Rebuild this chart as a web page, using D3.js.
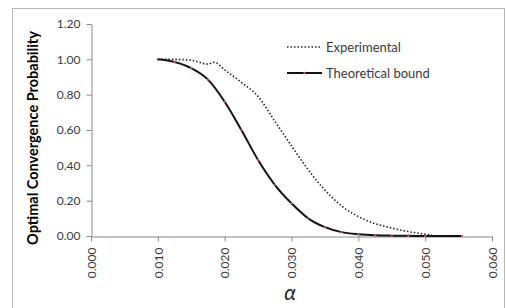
<!DOCTYPE html>
<html>
<head>
<meta charset="utf-8">
<script src="https://cdn.jsdelivr.net/npm/d3@7"></script>
<style>
  body { margin: 0; background: #fff; }
  text { font-family: Lato, "Open Sans", sans-serif; }
</style>
</head>
<body>
<svg id="chart"></svg>
<script>
// values
const theoAlpha = [0.0100, 0.0125, 0.0150, 0.0175, 0.0200, 0.0225, 0.0250, 0.0275, 0.0300, 0.0325, 0.0350, 0.0375, 0.0400, 0.0425, 0.0450, 0.0475, 0.0500, 0.0555]
const theoProb  = [1.000, 0.985, 0.950, 0.885, 0.760, 0.600, 0.430, 0.290, 0.185, 0.100, 0.050, 0.022, 0.010, 0.004, 0.002, 0.001, 0.000, 0.000]
const expAlpha = [0.0100, 0.0125, 0.0150, 0.0175, 0.0185, 0.0200, 0.0225, 0.0250, 0.0275, 0.0300, 0.0325, 0.0350, 0.0375, 0.0400, 0.0425, 0.0450, 0.0475, 0.0500, 0.0510]
const expProb  = [1.000, 1.000, 0.995, 0.973, 0.983, 0.940, 0.870, 0.790, 0.650, 0.510, 0.375, 0.260, 0.170, 0.110, 0.070, 0.045, 0.025, 0.010, 0.005]
const xTicks = [0, 0.01, 0.02, 0.03, 0.04, 0.05, 0.06]
const yTicks = [0, 0.2, 0.4, 0.6, 0.8, 1.0, 1.2]
const seriesNames = ["Experimental", "Theoretical bound"]

const width = 506
const height = 308
const marginLeft = 91
const marginRight = 14
const marginTop = 24
const axisY = 236
const axisColor = "#868686"
const labelColor = "#3a3a3a"

const svg = d3.select("#chart")
    .attr("width", width)
    .attr("height", height)
    .attr("viewBox", [0, 0, width, height])

// chart area frame
svg.append("rect")
    .attr("x", 12.5).attr("y", 8.5)
    .attr("width", 492).attr("height", 320)
    .attr("fill", "none")
    .attr("stroke", "#b8b8b8")

const x = d3.scaleLinear([0, 0.06], [marginLeft, width - marginRight])
const y = d3.scaleLinear([0, 1.2], [axisY, marginTop])

// y axis
svg.append("g")
    .attr("transform", `translate(${marginLeft + 0.5},0)`)
    .call(d3.axisLeft(y).tickValues(yTicks).tickFormat(d3.format(".2f")).tickSize(5).tickSizeOuter(0).tickPadding(6))
    .call(g => g.select(".domain").attr("stroke", axisColor))
    .call(g => g.selectAll(".tick line").attr("stroke", axisColor))
    .call(g => g.selectAll(".tick text")
        .attr("fill", labelColor)
        .style("font-size", "12px"))

// x axis
svg.append("g")
    .attr("transform", `translate(0,${axisY + 0.5})`)
    .call(d3.axisBottom(x).tickValues(xTicks).tickFormat(d3.format(".3f")).tickSize(5).tickSizeOuter(0))
    .call(g => g.select(".domain").attr("stroke", axisColor))
    .call(g => g.selectAll(".tick text")
        .attr("fill", labelColor)
        .style("font-size", "12px")
        .attr("transform", "rotate(-90)")
        .attr("x", -11)
        .attr("y", 0)
        .attr("dy", "0.35em")
        .attr("text-anchor", "end"))
    .call(g => g.selectAll(".tick line").attr("stroke", axisColor))

// axis titles
svg.append("text")
    .attr("transform", "translate(38,138) rotate(-90)")
    .attr("text-anchor", "middle")
    .attr("fill", "#000")
    .style("font-size", "14.5px")
    .style("font-weight", "bold")
    .text("Optimal Convergence Probability")

svg.append("text")
    .attr("x", 290)
    .attr("y", 300)
    .attr("text-anchor", "middle")
    .attr("fill", "#222")
    .style("font-size", "21px")
    .style("font-style", "italic")
    .text("α")

const line = d3.line()
    .x(d => x(d[0]))
    .y(d => y(d[1]))
    .curve(d3.curveMonotoneX)

const theo = d3.zip(theoAlpha, theoProb)
const exp = d3.zip(expAlpha, expProb)

// theoretical bound
svg.append("path")
    .datum(theo)
    .attr("fill", "none")
    .attr("stroke", "#111")
    .attr("stroke-width", 2)
    .attr("d", line)

svg.append("g")
    .selectAll("circle")
    .data(theo)
    .join("circle")
    .attr("cx", d => x(d[0]))
    .attr("cy", d => y(d[1]))
    .attr("r", 1.2)
    .attr("fill", "#b06060")

// experimental
svg.append("path")
    .datum(exp)
    .attr("fill", "none")
    .attr("stroke", "#222")
    .attr("stroke-width", 1.6)
    .attr("stroke-dasharray", "1.5,2")
    .attr("d", line)

// legend
const legend = svg.append("g")
    .selectAll("g")
    .data(seriesNames)
    .join("g")
    .attr("transform", (d, i) => `translate(287,${47 + i * 26})`)

legend.append("line")
    .attr("x1", 0).attr("x2", 35)
    .attr("stroke", (d, i) => i === 0 ? "#222" : "#111")
    .attr("stroke-width", (d, i) => i === 0 ? 1.6 : 2)
    .attr("stroke-dasharray", (d, i) => i === 0 ? "1.5,2" : null)

legend.filter((d, i) => i === 1).append("circle")
    .attr("cx", 17.5).attr("r", 1.2).attr("fill", "#b06060")

legend.append("text")
    .attr("x", 39)
    .attr("dy", "0.35em")
    .attr("fill", labelColor)
    .style("font-size", "13px")
    .text(d => d)
</script>
</body>
</html>
